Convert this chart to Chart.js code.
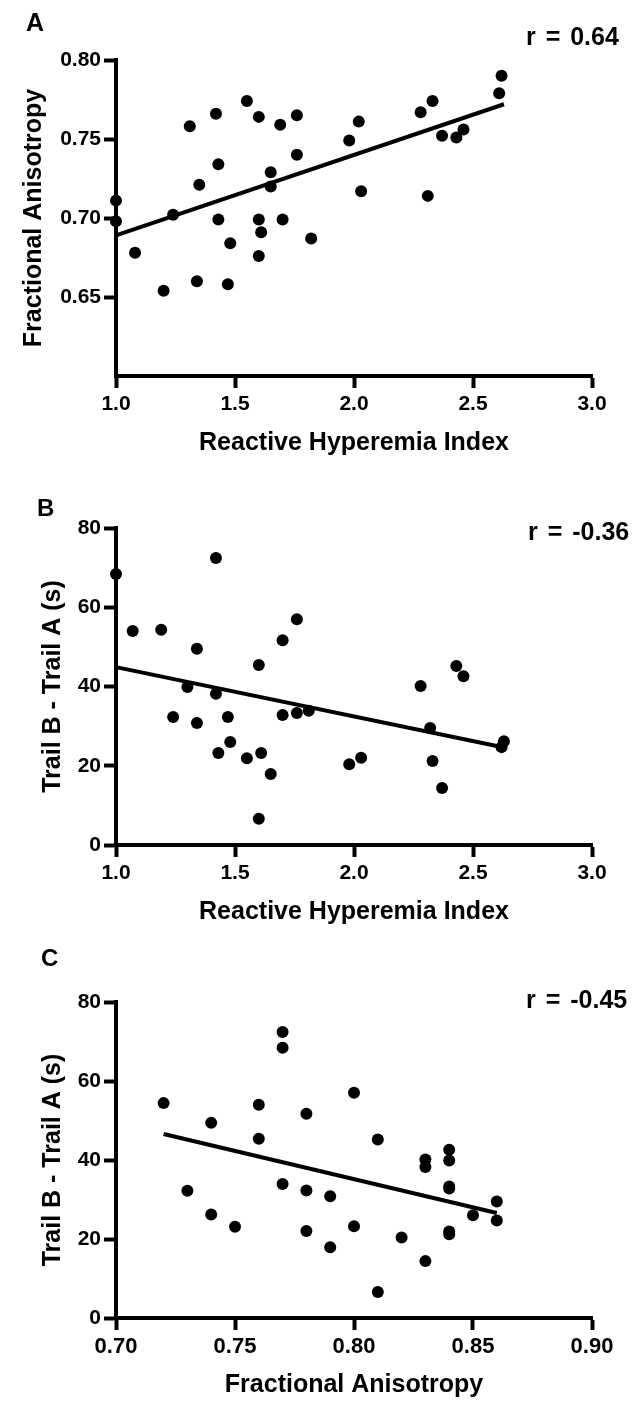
<!DOCTYPE html>
<html>
<head>
<meta charset="utf-8">
<script src="https://cdn.jsdelivr.net/npm/chart.js@4/dist/chart.umd.min.js"></script>
<style>
  body { margin: 0; background: #fff; }
  #wrap { position: relative; width: 638px; height: 1406px; }
  canvas { position: absolute; left: 0; }
  .lbl { position: absolute; font-family: "Liberation Sans", Arial, sans-serif; font-weight: bold; line-height: 1; color: #000; white-space: pre; }
  .r { word-spacing: 3px; }
</style>
</head>
<body>
<div id="wrap">
  <canvas id="chartA" width="638" height="469" style="top:0"></canvas>
  <canvas id="chartB" width="638" height="469" style="top:469px"></canvas>
  <canvas id="chartC" width="638" height="468" style="top:938px"></canvas>
  <div class="lbl" style="left:26px;top:10px;font-size:25px">A</div>
  <div class="lbl" style="left:37px;top:496px;font-size:24px">B</div>
  <div class="lbl" style="left:41px;top:946px;font-size:24px">C</div>
  <div class="lbl r" style="left:526px;top:24px;font-size:25px">r = 0.64</div>
  <div class="lbl r" style="left:528px;top:519px;font-size:25px">r = -0.36</div>
  <div class="lbl r" style="left:526px;top:987px;font-size:25px">r = -0.45</div>
</div>
<script>
// panel A: reactive hyperemia index vs fractional anisotropy
const aX = [1.00, 1.00, 1.08, 1.20, 1.24, 1.31, 1.34, 1.35, 1.42, 1.43, 1.43, 1.47, 1.48, 1.55, 1.60, 1.60, 1.61, 1.60,
            1.65, 1.65, 1.69, 1.70, 1.76, 1.76, 1.82, 1.98, 2.02, 2.03, 2.28, 2.33, 2.31, 2.37, 2.43, 2.46, 2.61, 2.62];
const aY = [0.711, 0.698, 0.678, 0.654, 0.702, 0.758, 0.660, 0.721, 0.766, 0.734, 0.699, 0.658, 0.684, 0.774, 0.764, 0.699, 0.691, 0.676,
            0.729, 0.720, 0.759, 0.699, 0.765, 0.740, 0.687, 0.749, 0.761, 0.717, 0.767, 0.774, 0.714, 0.752, 0.751, 0.756, 0.779, 0.790];
const aTrendX = [1.0, 2.63];
const aTrendY = [0.689, 0.772];

// panel B: reactive hyperemia index vs trail B - trail A
const bX = [1.00, 1.07, 1.19, 1.24, 1.30, 1.34, 1.34, 1.42, 1.42, 1.43, 1.47, 1.48, 1.55, 1.60, 1.60, 1.61,
            1.65, 1.70, 1.70, 1.76, 1.76, 1.81, 1.98, 2.03, 2.28, 2.32, 2.33, 2.37, 2.43, 2.46, 2.62, 2.63];
const bY = [68.4, 54.0, 54.3, 32.3, 39.9, 49.5, 30.8, 72.4, 38.2, 23.2, 32.3, 26.0, 21.9, 45.4, 6.6, 23.2,
            17.9, 51.7, 32.8, 57.0, 33.3, 33.9, 20.4, 22.0, 40.1, 29.5, 21.2, 14.4, 45.2, 42.6, 24.7, 26.2];
const bTrendX = [1.0, 2.63];
const bTrendY = [44.9, 24.6];

// panel C: fractional anisotropy vs trail B - trail A
const cX = [0.72, 0.73, 0.74, 0.74, 0.75, 0.76, 0.76, 0.77, 0.77, 0.77, 0.78, 0.78, 0.78, 0.79, 0.79, 0.80,
            0.80, 0.81, 0.81, 0.82, 0.83, 0.83, 0.83, 0.84, 0.84, 0.84, 0.84, 0.84, 0.84, 0.85, 0.86, 0.86];
const cY = [54.4, 32.2, 49.4, 26.2, 23.1, 54.0, 45.4, 72.4, 68.4, 33.9, 51.7, 32.3, 22.0, 30.8, 17.9, 57.0,
            23.2, 45.2, 6.6, 20.4, 40.1, 38.2, 14.4, 42.6, 39.9, 33.3, 32.8, 21.9, 21.2, 26.0, 29.5, 24.7];
const cTrendX = [0.72, 0.86];
const cTrendY = [46.6, 26.6];

const faTicks = [0.65, 0.70, 0.75, 0.80];
const rhiTicks = [1.0, 1.5, 2.0, 2.5, 3.0];
const trailTicks = [0, 20, 40, 60, 80];
const faXTicks = [0.70, 0.75, 0.80, 0.85, 0.90];

Chart.defaults.font.family = '"Liberation Sans", Arial, sans-serif';
Chart.defaults.color = '#000';

function pts(xs, ys) {
    return xs.map((x, i) => ({x: x, y: ys[i]}));
}

function axis(opts) {
    return {
        type: 'linear',
        position: opts.position,
        min: opts.min,
        max: opts.max,
        border: {display: true, color: '#000', width: 4},
        grid: {drawOnChartArea: false, drawTicks: true, tickLength: 12, tickWidth: 4, tickColor: '#000'},
        ticks: {
            color: '#000',
            font: {size: opts.tickSize || 21, weight: 'bold'},
            padding: opts.tickPad,
            maxRotation: 0,
            callback: v => v.toFixed(opts.digits)
        },
        title: {display: true, text: opts.title, color: '#000', font: {size: 25, weight: 'bold'}},
        afterBuildTicks: s => { s.ticks = opts.ticks.map(v => ({value: v})); },
        afterFit: s => {
            if (opts.position === 'left') s.width = opts.size;
            else s.height = opts.size;
        }
    };
}

function makeChart(id, xs, ys, tx, ty, xOpts, yOpts, pad) {
    new Chart(document.getElementById(id), {
        type: 'scatter',
        data: {
            datasets: [{
                data: pts(xs, ys),
                pointRadius: 6,
                pointBackgroundColor: '#000',
                pointBorderWidth: 0,
                clip: false
            }, {
                type: 'line',
                data: pts(tx, ty),
                borderColor: '#000',
                borderWidth: 4,
                pointRadius: 0,
                fill: false,
                clip: false
            }]
        },
        options: {
            responsive: false,
            animation: false,
            layout: {padding: pad},
            plugins: {legend: {display: false}, tooltip: {enabled: false}},
            scales: {
                x: axis(xOpts),
                y: axis(yOpts)
            }
        }
    });
}

makeChart('chartA', aX, aY, aTrendX, aTrendY,
    {position: 'bottom', min: 1.0, max: 3.0, ticks: rhiTicks, digits: 1, title: 'Reactive Hyperemia Index', size: 86, tickPad: 4},
    {position: 'left', min: 0.60, max: 0.80, ticks: faTicks, digits: 2, title: 'Fractional Anisotropy', size: 101, tickPad: 3},
    {top: 60, right: 46, bottom: 7, left: 15});

makeChart('chartB', bX, bY, bTrendX, bTrendY,
    {position: 'bottom', min: 1.0, max: 3.0, ticks: rhiTicks, digits: 1, title: 'Reactive Hyperemia Index', size: 86, tickPad: 4},
    {position: 'left', min: 0, max: 80, ticks: trailTicks, digits: 0, title: 'Trail B - Trail A (s)', size: 82, tickPad: 3},
    {top: 59, right: 46, bottom: 7, left: 34});

makeChart('chartC', cX, cY, cTrendX, cTrendY,
    {position: 'bottom', min: 0.70, max: 0.90, ticks: faXTicks, digits: 2, title: 'Fractional Anisotropy', size: 86, tickPad: 4, tickSize: 22},
    {position: 'left', min: 0, max: 80, ticks: trailTicks, digits: 0, title: 'Trail B - Trail A (s)', size: 82, tickPad: 3},
    {top: 64, right: 46, bottom: 2, left: 34});
</script>
</body>
</html>
